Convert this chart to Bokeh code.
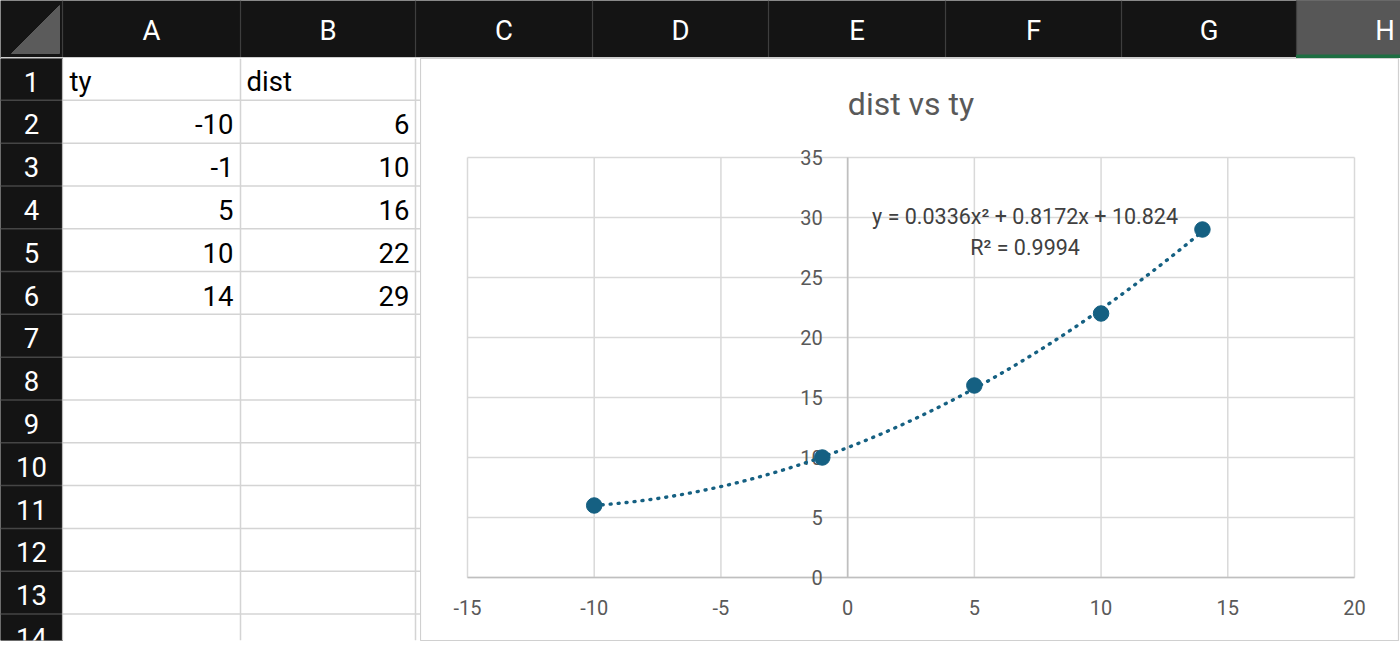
import numpy as np
from bokeh.plotting import figure
from bokeh.layouts import column, row
from bokeh.models import Range1d, Label
from bokeh.core.properties import value
from bokeh.embed import file_html
from bokeh.resources import INLINE

# ---------------- data ----------------
ty = [-10, -1, 5, 10, 14]
dist = [6, 10, 16, 22, 29]
col_names = ["ty", "dist"]
col_letters = ["A", "B", "C", "D", "E", "F", "G", "H"]
row_numbers = list(range(1, 15))
x_ticks = [-15, -10, -5, 0, 5, 10, 15, 20]
y_ticks = [0, 5, 10, 15, 20, 25, 30, 35]
chart_title = "dist vs ty"
eq_text = "y = 0.0336x\u00b2 + 0.8172x + 10.824"
r2_text = "R\u00b2 = 0.9994"

# ---------------- layout constants ----------------
FONT = "Roboto"
PAGE_W, PAGE_H = 1400, 646
HEAD_H = 58
ROW_HDR_W = 62
col_edges = [62, 240, 415, 592, 768, 945, 1121, 1296, 1473]
ROW_TOP = 57
ROW_H = 43.25
CHART_L = 420
SHEET_FONT = "27.5px"
TICK_FONT = "20px"

BLACK = "#141414"
BLUE = "#156082"


def base_fig(w, h, xr, yr, bg="white"):
    f = figure(width=w, height=h, x_range=xr, y_range=yr,
               toolbar_location=None, output_backend="svg",
               x_axis_location=None, y_axis_location=None,
               min_border=0, outline_line_color=None,
               background_fill_color=bg, border_fill_color=bg)
    f.grid.grid_line_color = None
    return f


# ---------------- column header bar ----------------
hdr = base_fig(PAGE_W, HEAD_H, Range1d(0, PAGE_W), Range1d(HEAD_H, 0), bg=BLACK)
hdr.quad(left=col_edges[7], right=PAGE_W, top=0, bottom=HEAD_H, color="#575757")
hdr.segment(x0=col_edges[:-1], y0=0, x1=col_edges[:-1], y1=HEAD_H - 1,
            line_color="#3e3e3e", line_width=1.2)
hdr.patch(x=[11, 59, 59], y=[53, 53, 5], color="#5b5b5b")
hdr.segment(x0=0, y0=HEAD_H - 0.7, x1=col_edges[7], y1=HEAD_H - 0.7,
            line_color="#cfcfcf", line_width=1.4)
hdr.quad(left=col_edges[7], right=PAGE_W, top=HEAD_H - 3.5, bottom=HEAD_H,
         color="#1e6e42")
centers = [(a + b) / 2 for a, b in zip(col_edges[:-1], col_edges[1:])]
hdr.text(x=centers, y=[30] * len(centers), text=col_letters,
         text_align="center", text_baseline="middle", text_color="white",
         text_font=value(FONT), text_font_size=SHEET_FONT)

# ---------------- left part of the sheet ----------------
left = base_fig(CHART_L, PAGE_H - HEAD_H, Range1d(0, CHART_L), Range1d(PAGE_H, HEAD_H))
left.quad(left=0, right=ROW_HDR_W, top=HEAD_H, bottom=PAGE_H, color=BLACK)
bounds = [ROW_TOP + ROW_H * (k + 1) for k in range(len(row_numbers))]
left.segment(x0=ROW_HDR_W, y0=bounds, x1=CHART_L, y1=bounds,
             line_color="#d4d4d4", line_width=1.5)
left.segment(x0=0, y0=bounds, x1=ROW_HDR_W, y1=bounds,
             line_color="#454545", line_width=1.5)
left.segment(x0=col_edges[1:3], y0=HEAD_H, x1=col_edges[1:3], y1=PAGE_H,
             line_color="#d4d4d4", line_width=1.5)
left.segment(x0=ROW_HDR_W, y0=HEAD_H, x1=ROW_HDR_W, y1=PAGE_H,
             line_color="#bdbdbd", line_width=1.2)
baselines = [b - 19 for b in bounds]
left.text(x=[ROW_HDR_W / 2] * len(row_numbers), y=baselines,
          text=[str(r) for r in row_numbers], text_align="center",
          text_baseline="alphabetic", text_color="white",
          text_font=value(FONT), text_font_size=SHEET_FONT)
left.text(x=[col_edges[0] + 7, col_edges[1] + 6], y=[baselines[0]] * 2,
          text=col_names, text_align="left", text_baseline="alphabetic",
          text_color="black", text_font=value(FONT), text_font_size=SHEET_FONT)
n = len(ty)
left.text(x=[col_edges[1] - 7] * n, y=baselines[1:1 + n],
          text=[str(v) for v in ty], text_align="right",
          text_baseline="alphabetic", text_color="black",
          text_font=value(FONT), text_font_size=SHEET_FONT)
left.text(x=[col_edges[2] - 6] * n, y=baselines[1:1 + n],
          text=[str(v) for v in dist], text_align="right",
          text_baseline="alphabetic", text_color="black",
          text_font=value(FONT), text_font_size=SHEET_FONT)

# ---------------- chart ----------------
px_x = 887 / (max(x_ticks) - min(x_ticks))
px_y = 420 / (max(y_ticks) - min(y_ticks))
xr = Range1d(min(x_ticks) - 47 / px_x, max(x_ticks) + 44 / px_x)
yr = Range1d(min(y_ticks) - 63 / px_y, max(y_ticks) + 99 / px_y)
chart = figure(width=PAGE_W - CHART_L, height=PAGE_H - HEAD_H,
               x_range=xr, y_range=yr, toolbar_location=None,
               output_backend="svg", x_axis_location=None, y_axis_location=None,
               min_border_left=0, min_border_top=0, min_border_right=2,
               min_border_bottom=6, outline_line_color="#d0d0d0",
               outline_line_width=1.2, background_fill_color="white",
               border_fill_color="white")
chart.grid.grid_line_color = None

GRID = "#d9d9d9"
chart.segment(x0=x_ticks, y0=min(y_ticks), x1=x_ticks, y1=max(y_ticks),
              line_color=GRID, line_width=1.5)
chart.segment(x0=min(x_ticks), y0=y_ticks, x1=max(x_ticks), y1=y_ticks,
              line_color=GRID, line_width=1.5)
chart.segment(x0=[0, min(x_ticks)], y0=[min(y_ticks), 0],
              x1=[0, max(x_ticks)], y1=[max(y_ticks), 0],
              line_color="#bfbfbf", line_width=1.6)

chart.text(x=[0] * len(y_ticks), y=y_ticks, text=[str(t) for t in y_ticks],
           text_align="right", text_baseline="middle", x_offset=-25,
           text_color="#595959", text_font=value(FONT), text_font_size=TICK_FONT)
chart.text(x=x_ticks, y=[0] * len(x_ticks), text=[str(t) for t in x_ticks],
           text_align="center", text_baseline="middle", y_offset=30,
           text_color="#595959", text_font=value(FONT), text_font_size=TICK_FONT)

coef = np.polyfit(ty, dist, 2)
xs = np.linspace(min(ty), max(ty), 300)
chart.line(xs, np.polyval(coef, xs), line_color=BLUE, line_width=3.4,
           line_dash="1 7", line_cap="round")
chart.scatter(ty, dist, size=15.5, fill_color=BLUE, line_color=BLUE)

chart.add_layout(Label(x=(min(x_ticks) + max(x_ticks)) / 2, y=39.5,
                       text=chart_title, text_align="center",
                       text_baseline="middle", text_color="#595959",
                       text_font=FONT, text_font_size="32px"))
chart.add_layout(Label(x=7, y=30.1, text=eq_text, text_align="center",
                       text_baseline="middle", text_color="#404040",
                       text_font=FONT, text_font_size="21.5px"))
chart.add_layout(Label(x=7, y=27.5, text=r2_text, text_align="center",
                       text_baseline="middle", text_color="#404040",
                       text_font=FONT, text_font_size="21.5px"))

root = column(hdr, row(left, chart, spacing=0), spacing=0)

with open("out.html", "w") as fh:
    fh.write(file_html(root, INLINE))
